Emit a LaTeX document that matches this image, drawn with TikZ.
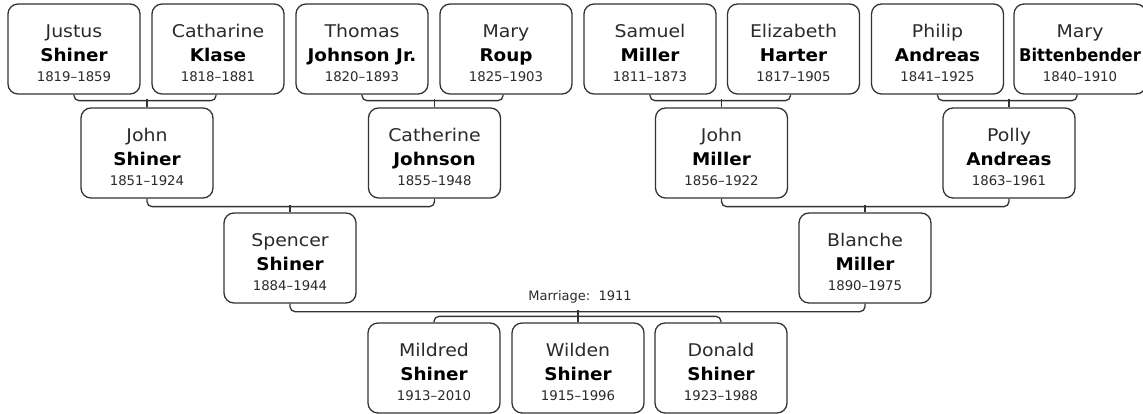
\documentclass[tikz,border=0pt]{standalone}
\usepackage{fontspec}
\usepackage{graphicx}
\setmainfont{DejaVu Sans}
\newfontfamily\givenfont[FakeStretch=1.08]{DejaVu Sans}
\newfontfamily\surfont[FakeStretch=1.05]{DejaVu Sans}
\definecolor{linecol}{HTML}{333333}
\definecolor{fcol}{HTML}{2A2A2A}
\newcommand\person[6]{%
  \node[pbox] (#1) at (#2,#3+45) {};
  \node[ftext,anchor=base] (#1-f) at (#2,#3+33.7) {#4};
  \node[ltext,anchor=base] (#1-l) at (#2,#3+57.7) {#5};
  \node[dtext,anchor=base] (#1-d) at (#2,#3+77.7) {#6};
}
\begin{document}
\begin{tikzpicture}[x=1pt,y=-1pt,
  pbox/.style={draw=linecol,line width=1.3pt,rounded corners=10pt,minimum width=132pt,minimum height=90pt,inner sep=0pt,fill=white},
  ftext/.style={inner sep=0pt,font=\givenfont\fontsize{17.5}{20}\selectfont,text=fcol},
  ltext/.style={inner sep=0pt,font=\surfont\fontsize{17.5}{20}\selectfont\bfseries,text=black},
  dtext/.style={inner sep=0pt,font=\fontsize{13.3}{15}\selectfont,text=fcol},
  mtext/.style={inner sep=0pt,font=\fontsize{13}{15}\selectfont,text=fcol},
  conn/.style={draw=linecol,line width=1.3pt,rounded corners=5pt}]
\useasboundingbox (0,0) rectangle (1143,414);
\clip (0,0) rectangle (1143,414);
% row 1
\person{j1}{74}{4}{Justus}{Shiner}{1819–1859}
\person{c1}{218}{4}{Catharine}{Klase}{1818–1881}
\person{t1}{362}{4}{Thomas}{Johnson Jr.}{1820–1893}
\person{m1}{506}{4}{Mary}{Roup}{1825–1903}
\person{s1}{650}{4}{Samuel}{Miller}{1811–1873}
\person{e1}{793.5}{4}{Elizabeth}{Harter}{1817–1905}
\person{p1}{937.5}{4}{Philip}{Andreas}{1841–1925}
\person{b1}{1080}{4}{Mary}{\scalebox{0.89}[1]{Bittenbender}}{1840–1910}
% row 2
\person{john}{147}{108}{John}{Shiner}{1851–1924}
\person{cath}{434.5}{108}{Catherine}{Johnson}{1855–1948}
\person{jmil}{721.5}{108}{John}{Miller}{1856–1922}
\person{polly}{1009}{108}{Polly}{Andreas}{1863–1961}
% row 3
\person{spencer}{290}{213}{Spencer}{Shiner}{1884–1944}
\person{blanche}{865}{213}{Blanche}{Miller}{1890–1975}
% row 4
\person{mildred}{434}{323}{Mildred}{Shiner}{1913–2010}
\person{wilden}{578}{323}{Wilden}{Shiner}{1915–1996}
\person{donald}{721}{323}{Donald}{Shiner}{1923–1988}
% connectors row 1 -> row 2
\draw[conn] (j1.south) -- ++(0,6) -| ([xshift=-2pt]c1.south);
\draw[conn] (john.north) -- ++(0,-8);
\draw[conn] (t1.south) -- ++(0,6) -| ([xshift=-3pt]m1.south);
\draw[conn] (cath.north) -- ++(0,-8);
\draw[conn] (s1.south) -- ++(0,6) -| ([xshift=-3pt]e1.south);
\draw[conn] (jmil.north) -- ++(0,-8);
\draw[conn] (p1.south) -- ++(0,6) -| ([xshift=-3pt]b1.south);
\draw[conn] (polly.north) -- ++(0,-8);
% row 2 -> row 3
\draw[conn] (john.south) -- ++(0,8) -| (cath.south);
\draw[conn] (spencer.north) -- ++(0,-7);
\draw[conn] (jmil.south) -- ++(0,8) -| (polly.south);
\draw[conn] (blanche.north) -- ++(0,-7);
% marriage
\draw[conn] (spencer.south) -- ++(0,8) -| (blanche.south);
\node[mtext,anchor=base] (marr) at (580,300.7) {Marriage:\ \ 1911};
\draw[conn] (mildred.north) -- ++(0,-6) -| (donald.north);
\draw[conn] (wilden.north) -- ++(0,-12);
\end{tikzpicture}
\end{document}
